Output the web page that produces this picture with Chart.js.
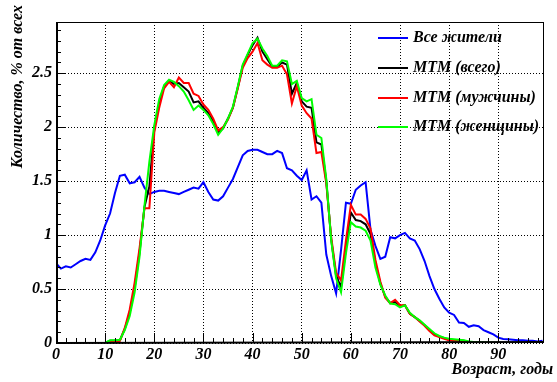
<!DOCTYPE html>
<html><head><meta charset="utf-8">
<script src="https://cdn.jsdelivr.net/npm/chart.js@4"></script>
<style>html,body{margin:0;padding:0;background:#fff;}#wrap{width:557px;height:382px;position:relative;}</style>
</head><body><div id="wrap"><canvas id="c" width="557" height="382"></canvas></div>
<script>
const ages = [0,1,2,3,4,5,6,7,8,9,10,11,12,13,14,15,16,17,18,19,20,21,22,23,24,25,26,27,28,29,30,31,32,33,34,35,36,37,38,39,40,41,42,43,44,45,46,47,48,49,50,51,52,53,54,55,56,57,58,59,60,61,62,63,64,65,66,67,68,69,70,71,72,73,74,75,76,77,78,79,80,81,82,83,84,85,86,87,88,89,90,91,92,93,94,95,96,97,98,99];

const seriesNames = ['Все жители', 'МТМ (всего)', 'МТМ (мужчины)', 'МТМ (женщины)'];
const seriesColors = ['#0000ff', '#000000', '#ff0000', '#00ff00'];

const allResidents = [0.74,0.69,0.71,0.70,0.73,0.76,0.78,0.77,0.84,0.95,1.09,1.20,1.39,1.55,1.56,1.48,1.49,1.54,1.44,1.38,1.40,1.41,1.41,1.40,1.39,1.38,1.40,1.42,1.44,1.43,1.49,1.40,1.33,1.32,1.36,1.44,1.52,1.63,1.74,1.78,1.79,1.79,1.77,1.75,1.75,1.78,1.76,1.62,1.60,1.55,1.51,1.60,1.33,1.36,1.30,0.82,0.62,0.46,0.86,1.30,1.29,1.42,1.46,1.49,1.05,0.90,0.78,0.80,0.98,0.97,1.00,1.02,0.97,0.95,0.87,0.76,0.62,0.50,0.41,0.33,0.28,0.26,0.19,0.185,0.15,0.165,0.155,0.12,0.10,0.08,0.05,0.037,0.034,0.03,0.025,0.025,0.02,0.02,0.015,0.02];

const mtmTotal = [0,0,0,0,0,0,0,0,0,0,0,0.02,0.02,0.025,0.13,0.28,0.51,0.84,1.26,1.45,1.99,2.22,2.38,2.43,2.40,2.41,2.37,2.33,2.23,2.24,2.18,2.13,2.05,1.95,1.99,2.08,2.18,2.37,2.57,2.67,2.76,2.83,2.70,2.63,2.56,2.56,2.60,2.58,2.31,2.41,2.24,2.19,2.18,1.86,1.84,1.50,0.96,0.62,0.52,0.88,1.21,1.14,1.13,1.10,1.01,0.74,0.55,0.43,0.37,0.38,0.34,0.35,0.27,0.24,0.205,0.165,0.12,0.08,0.06,0.045,0.03,0.027,0.025,0.02,0.01,0.007,0.004,0.003,0,0,0,0,0,0,0,0,0,0,0,0];

const mtmMen = [0,0,0,0,0,0,0,0,0,0,0,0.01,0.01,0.02,0.14,0.31,0.56,0.88,1.25,1.25,1.95,2.18,2.36,2.42,2.37,2.46,2.41,2.41,2.31,2.29,2.21,2.16,2.08,1.97,2.00,2.07,2.18,2.36,2.55,2.64,2.70,2.78,2.62,2.58,2.55,2.55,2.57,2.49,2.22,2.38,2.20,2.13,2.08,1.76,1.77,1.48,0.98,0.65,0.58,0.95,1.28,1.19,1.19,1.15,1.06,0.77,0.57,0.42,0.37,0.40,0.35,0.35,0.27,0.24,0.20,0.16,0.11,0.07,0.055,0.04,0.025,0.02,0.02,0.015,0.008,0.005,0,0,0,0,0,0,0,0,0,0,0,0,0,0];

const mtmWomen = [0,0,0,0,0,0,0,0,0,0,0,0.025,0.025,0.03,0.12,0.25,0.47,0.80,1.27,1.68,2.02,2.26,2.39,2.44,2.42,2.38,2.33,2.25,2.16,2.20,2.16,2.11,2.03,1.93,1.99,2.08,2.19,2.38,2.58,2.68,2.78,2.82,2.73,2.66,2.57,2.57,2.62,2.61,2.40,2.43,2.27,2.24,2.26,1.93,1.90,1.52,0.95,0.60,0.47,0.83,1.12,1.08,1.07,1.04,0.95,0.70,0.54,0.44,0.365,0.36,0.33,0.35,0.28,0.24,0.21,0.17,0.13,0.09,0.065,0.05,0.04,0.035,0.03,0.025,0.015,0.01,0.008,0.005,0.005,0.003,0.002,0,0,0,0,0,0,0,0,0];

const xTickValues = [0,10,20,30,40,50,60,70,80,90];
const xTickLabels = ['0','10','20','30','40','50','60','70','80','90'];
const yTickValues = [0,0.5,1,1.5,2,2.5];
const yTickLabels = ['0','0.5','1','1.5','2','2.5'];

const xTitle = 'Возраст, годы';
const yTitle = 'Количество, % от всех';

const FONT = 'bold italic 16px "Liberation Serif"';
const seriesValues = [allResidents, mtmTotal, mtmMen, mtmWomen];

function pts(vals) { return ages.map((a, i) => ({x: a, y: vals[i]})); }

const decor = {
  id: 'decor',
  afterDraw(chart) {
    const {ctx, chartArea: a, scales: {x, y}} = chart;
    ctx.save();
    ctx.strokeStyle = '#000';
    ctx.fillStyle = '#000';
    // minor/major ticks on y (inside)
    ctx.lineWidth = 1;
    ctx.beginPath();
    for (let k = 0; k <= 29; k++) {
      const v = k / 10;
      if (v > y.max) break;
      const py = Math.round(y.getPixelForValue(v)) + 0.5;
      const len = (k % 5 === 0) ? 10 : 5;
      ctx.moveTo(a.left, py); ctx.lineTo(a.left + len, py);
    }
    for (let k = 0; k <= 98; k += 2) {
      const px = Math.round(x.getPixelForValue(k)) + 0.5;
      const len = (k % 10 === 0) ? 10 : 5;
      ctx.moveTo(px, a.bottom); ctx.lineTo(px, a.bottom - len);
    }
    ctx.stroke();
    // frame
    ctx.lineWidth = 1;
    ctx.strokeRect(Math.round(a.left) + 0.5, Math.round(a.top) + 0.5, Math.round(a.right - a.left) - 1, Math.round(a.bottom - a.top) - 1);
    ctx.lineWidth = 2;
    ctx.beginPath();
    ctx.moveTo(Math.round(a.left) + 1, a.top); ctx.lineTo(Math.round(a.left) + 1, Math.round(a.bottom));
    ctx.lineTo(a.right, Math.round(a.bottom) - 1);
    ctx.stroke();
    // legend
    ctx.font = FONT;
    ctx.textBaseline = 'middle';
    ctx.textAlign = 'left';
    const ly0 = 38, step = 29.8;
    chart.data.datasets.forEach((ds, i) => {
      const ly = Math.round(ly0 + i * step);
      ctx.strokeStyle = ds.borderColor;
      ctx.lineWidth = 2;
      ctx.beginPath(); ctx.moveTo(378, ly); ctx.lineTo(408, ly); ctx.stroke();
      ctx.fillStyle = '#000';
      ctx.fillText(ds.label, 413, ly);
    });
    // axis titles
    ctx.fillStyle = '#000';
    ctx.textAlign = 'right';
    ctx.textBaseline = 'middle';
    ctx.fillText(xTitle, 553, 370);
    ctx.save();
    ctx.translate(18, 5);
    ctx.rotate(-Math.PI / 2);
    ctx.fillText(yTitle, 0, 0);
    ctx.restore();
    ctx.restore();
  }
};

const datasets = seriesNames.map((name, i) => ({
  label: name,
  data: pts(seriesValues[i]),
  borderColor: seriesColors[i],
  backgroundColor: seriesColors[i],
  borderWidth: 2,
  pointRadius: 0,
  tension: 0,
  fill: false,
  order: 4 - i
}));

new Chart(document.getElementById('c'), {
  type: 'line',
  data: { datasets },
  plugins: [decor],
  options: {
    responsive: false,
    animation: false,
    events: [],
    layout: { padding: { top: 22, right: 13, left: 0, bottom: 0 } },
    plugins: { legend: { display: false }, tooltip: { enabled: false }, title: { display: false } },
    scales: {
      x: {
        type: 'linear', min: 0, max: 99.3,
        afterFit: s => { s.height = 39; },
        afterBuildTicks: s => { s.ticks = xTickValues.map(v => ({value: v})); },
        ticks: { font: { family: 'Liberation Serif', size: 16, weight: 'bold', style: 'italic' }, color: '#000', padding: 2, maxRotation: 0, autoSkip: false, includeBounds: false,
          callback: (v) => { const i = xTickValues.indexOf(v); return i >= 0 ? xTickLabels[i] : ''; } },
        grid: { color: '#000', lineWidth: 1, drawTicks: false, tickLength: 0 },
        border: { display: false, dash: [1, 2] }
      },
      y: {
        type: 'linear', min: 0, max: 2.975,
        afterFit: s => { s.width = 56; },
        afterBuildTicks: s => { s.ticks = yTickValues.map(v => ({value: v})); },
        ticks: { font: { family: 'Liberation Serif', size: 16, weight: 'bold', style: 'italic' }, color: '#000', padding: 4, autoSkip: false, includeBounds: false,
          callback: (v) => { const i = yTickValues.indexOf(v); return i >= 0 ? yTickLabels[i] : ''; } },
        grid: { color: '#000', lineWidth: 1, drawTicks: false, tickLength: 0 },
        border: { display: false, dash: [1, 2] }
      }
    }
  }
});
</script></body></html>
